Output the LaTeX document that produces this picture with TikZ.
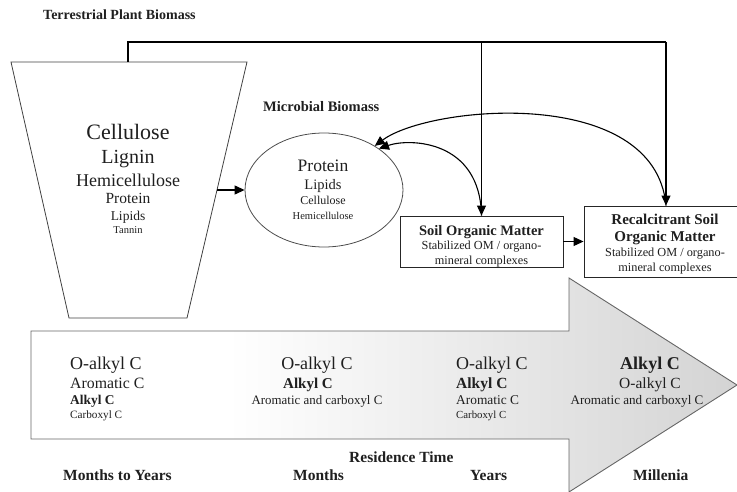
\documentclass[tikz,border=0pt]{standalone}
\usepackage{fontspec}
\setmainfont{Liberation Serif}
\usetikzlibrary{arrows.meta,shapes.geometric}
\newcommand{\fsz}[1]{\fontsize{#1}{#1}\selectfont}
\begin{document}
\begin{tikzpicture}[x=1pt,y=-1pt,
  conn/.style={line width=1.1pt, draw=black},
  tipend/.style={-{Triangle[length=10pt,width=9pt]}},
  lbl/.style={inner sep=0pt, anchor=base, text=black!88},
  lblw/.style={inner sep=0pt, anchor=base west, text=black!88},
  boxn/.style={draw=black!85, line width=0.9pt, inner sep=0pt, fill=white}
]
\useasboundingbox (0,0) rectangle (737,492);

% big residence-time arrow
\begin{scope}
\clip (31,331) -- (569,331) -- (569,278) -- (737,385) -- (569,492) -- (569,439) -- (31,439) -- cycle;
\fill[white] (25,270) rectangle (228,500);
\shade[left color=white, right color=black!17] (228,270) rectangle (737,500);
\end{scope}
\draw[draw=black!60, line width=0.9pt] (31,331) -- (569,331) -- (569,278) -- (737,385) -- (569,492) -- (569,439) -- (31,439) -- cycle;

% plant biomass trapezoid
\draw[black!75, line width=0.8pt] (11,62) -- (247,62) -- (187,318) -- (69,318) -- cycle;
\coordinate (tt) at (128,62);
\coordinate (tr) at (217,190);

% microbial biomass ellipse
\node[ellipse, draw=black!70, line width=0.8pt, minimum width=158pt, minimum height=114pt, inner sep=0pt] (ell) at (324,190) {};

% boxes
\node[boxn, minimum width=163pt, minimum height=51pt] (som) at (481.5,241.5) {};
\node[boxn, minimum width=162pt, minimum height=71pt] (rsom) at (665,241.5) {};

% connectors
\coordinate (c1) at (128,42);
\coordinate (c2) at (666,42);
\coordinate (c3) at (481.5,42);
\draw[conn] (tt) -- (c1) -- (c2);
\draw[conn,tipend] (c2) -- (c2 |- rsom.north);
\draw[conn,tipend] (c3) -- (som.north);
\draw[conn,tipend] (tr) -- (ell.west);
\draw[conn,tipend] (som.east) -- (rsom.west);
\draw[conn,tipend] (som.north) .. controls (480,140) and (410,138) .. (ell.37);
\draw[conn,tipend] (c2 |- rsom.north) .. controls (655,85) and (430,105) .. (ell.41);

% titles
\node[lblw, font=\fsz{14}\bfseries] (tpb) at (43,20) {Terrestrial Plant Biomass};
\node[lblw, font=\fsz{14.5}\bfseries] (mb) at (263,112) {Microbial Biomass};

% trapezoid text
\node[lbl, font=\fsz{22}] (p1) at (128,140) {Cellulose};
\node[lbl, font=\fsz{20}] (p2) at (128,164) {Lignin};
\node[lbl, font=\fsz{18}] (p3) at (128,186) {Hemicellulose};
\node[lbl, font=\fsz{15.5}] (p4) at (128,204) {Protein};
\node[lbl, font=\fsz{13.5}] (p5) at (128,220.5) {Lipids};
\node[lbl, font=\fsz{10.5}] (p6) at (128,233.5) {Tannin};

% ellipse text
\node[lbl, font=\fsz{17.5}] (m1) at (323,172) {Protein};
\node[lbl, font=\fsz{14.5}] (m2) at (323,190) {Lipids};
\node[lbl, font=\fsz{12}] (m3) at (323,205) {Cellulose};
\node[lbl, font=\fsz{10.5}] (m4) at (323,219.5) {Hemicellulose};

% SOM text
\node[lbl, font=\fsz{14.5}\bfseries] (s1) at (481.5,236) {Soil Organic Matter};
\node[lbl, font=\fsz{12.3}] (s2) at (481.5,249) {Stabilized OM / organo-};
\node[lbl, font=\fsz{12.3}] (s3) at (481.5,265) {mineral complexes};

% RSOM text
\node[lbl, font=\fsz{15}\bfseries] (r1) at (665,225) {Recalcitrant Soil};
\node[lbl, font=\fsz{15}\bfseries] (r2) at (665,242) {Organic Matter};
\node[lbl, font=\fsz{12.3}] (r3) at (665,257) {Stabilized OM / organo-};
\node[lbl, font=\fsz{12.3}] (r4) at (665,272) {mineral complexes};

% column 1
\node[lblw, font=\fsz{18}] (a1) at (70,369) {O-alkyl C};
\node[lblw, font=\fsz{15.8}] (a2) at (70,388) {Aromatic C};
\node[lblw, font=\fsz{13.4}\bfseries] (a3) at (70,404.5) {Alkyl C};
\node[lblw, font=\fsz{11.2}] (a4) at (70,418) {Carboxyl C};
% column 2
\node[lbl, font=\fsz{18}] (b1) at (317,369) {O-alkyl C};
\node[lblw, font=\fsz{15}\bfseries] (b2) at (283,388) {Alkyl C};
\node[lbl, font=\fsz{12.9}] (b3) at (317,404.5) {Aromatic and carboxyl C};
% column 3
\node[lblw, font=\fsz{18}] (d1) at (456,369) {O-alkyl C};
\node[lblw, font=\fsz{15.5}\bfseries] (d2) at (456,388) {Alkyl C};
\node[lblw, font=\fsz{13.4}] (d3) at (456,404.5) {Aromatic C};
\node[lblw, font=\fsz{10.8}] (d4) at (456,418) {Carboxyl C};
% column 4
\node[lbl, font=\fsz{18}\bfseries] (e1) at (650,369) {Alkyl C};
\node[lbl, font=\fsz{15.5}] (e2) at (650,388) {O-alkyl C};
\node[lbl, font=\fsz{13.1}] (e3) at (637,404.5) {Aromatic and carboxyl C};

% time labels
\node[lblw, font=\fsz{15.5}\bfseries] (rt) at (349,462) {Residence Time};
\node[lblw, font=\fsz{15.5}\bfseries] (t1) at (63,480) {Months to Years};
\node[lblw, font=\fsz{15.5}\bfseries] (t2) at (293,480) {Months};
\node[lblw, font=\fsz{15.5}\bfseries] (t3) at (470,480) {Years};
\node[lblw, font=\fsz{15.5}\bfseries] (t4) at (633,480) {Millenia};
\end{tikzpicture}
\end{document}
